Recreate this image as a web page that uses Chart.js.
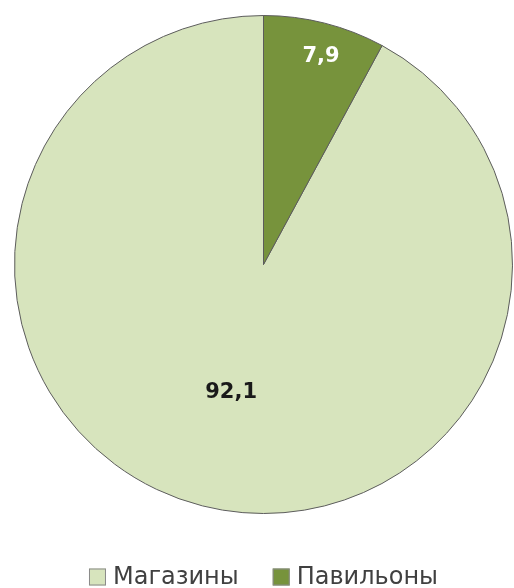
<!DOCTYPE html>
<html>
<head>
<meta charset="utf-8">
<script src="https://cdn.jsdelivr.net/npm/chart.js@4"></script>
<style>
  html, body { margin: 0; padding: 0; background: #fff; }
  #wrap { width: 514px; height: 588px; }
</style>
</head>
<body>
<div id="wrap"><canvas id="pie" width="514" height="588"></canvas></div>
<script>
// chart data
const labels = ['Магазины', 'Павильоны'];
const values = [92.1, 7.9];
const colors = ['#d7e4bd', '#77933c'];
const labelColors = ['#1a1a1a', '#ffffff'];
const labelRadius = [0.53, 0.86];

// small slice should start at 12 o'clock, big one follows clockwise
const total = values.reduce((a, b) => a + b, 0);
const rotation = values[1] / total * 360;

// draws the numbers on the slices
const sliceLabels = {
  id: 'sliceLabels',
  afterDatasetsDraw(chart) {
    const ctx = chart.ctx;
    const meta = chart.getDatasetMeta(0);
    ctx.save();
    ctx.textAlign = 'center';
    ctx.textBaseline = 'middle';
    ctx.font = 'bold 21px "DejaVu Sans", sans-serif';
    meta.data.forEach((arc, i) => {
      const mid = (arc.startAngle + arc.endAngle) / 2;
      const r = arc.outerRadius * labelRadius[i];
      const x = arc.x + Math.cos(mid) * r;
      const y = arc.y + Math.sin(mid) * r;
      ctx.fillStyle = labelColors[i];
      ctx.fillText(values[i].toString().replace('.', ','), x + (i ? 5 : 0), y);
    });
    ctx.restore();
  }
};

// legend under the pie, centred on the pie
const bottomLegend = {
  id: 'bottomLegend',
  afterDraw(chart) {
    const ctx = chart.ctx;
    const area = chart.chartArea;
    ctx.save();
    ctx.font = '24px "DejaVu Sans", sans-serif';
    ctx.textBaseline = 'middle';
    const box = 17, gap = 7, spacing = 34;
    const widths = labels.map(l => box + gap + ctx.measureText(l).width);
    const full = widths.reduce((a, b) => a + b, 0) + spacing * (labels.length - 1);
    let x = (area.left + area.right) / 2 - full / 2;
    const y = 577;
    labels.forEach((l, i) => {
      ctx.fillStyle = colors[i];
      ctx.strokeStyle = '#8a8a8a';
      ctx.lineWidth = 1;
      ctx.fillRect(x, y - box / 2, box, box);
      ctx.strokeRect(x + 0.5, y - box / 2 + 0.5, box - 1, box - 1);
      ctx.fillStyle = '#404040';
      ctx.fillText(l, x + box + gap, y + 1);
      x += widths[i] + spacing;
    });
    ctx.restore();
  }
};

new Chart(document.getElementById('pie'), {
  type: 'pie',
  data: {
    labels: labels,
    datasets: [{
      data: values,
      backgroundColor: colors,
      borderColor: '#5c5c5c',
      borderWidth: 1
    }]
  },
  options: {
    responsive: false,
    animation: false,
    rotation: rotation,
    layout: { padding: { top: 15, left: 14, right: 1, bottom: 74 } },
    plugins: {
      legend: { display: false },
      tooltip: { enabled: false }
    }
  },
  plugins: [sliceLabels, bottomLegend]
});
</script>
</body>
</html>
